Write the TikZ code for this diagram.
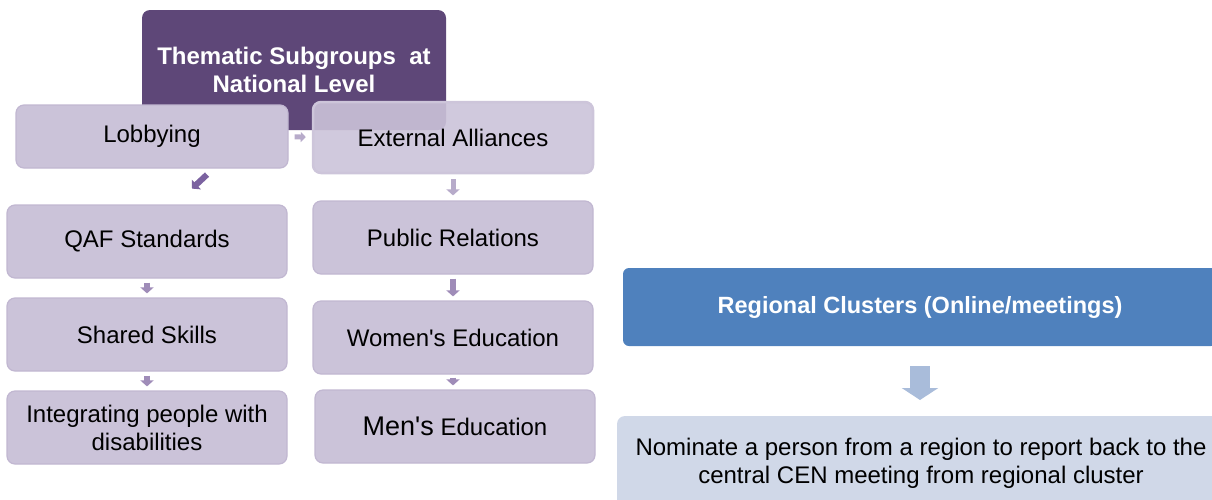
\documentclass[tikz,border=0pt]{standalone}
\usepackage{fontspec}
\setmainfont{Liberation Sans}
\usetikzlibrary{calc,arrows.meta}
\definecolor{hdr}{HTML}{5E4778}
\definecolor{lbox}{HTML}{CBC3D9}
\definecolor{lborder}{HTML}{C1B7D1}
\definecolor{arrL}{HTML}{B7ABCA}
\definecolor{arrM}{HTML}{9F8CB8}
\definecolor{arrD}{HTML}{7B62A0}
\definecolor{blu}{HTML}{4F81BD}
\definecolor{lblu}{HTML}{D0D8E8}
\definecolor{arrB}{HTML}{A9BCDA}
\tikzset{
  lightbox/.style={draw=lborder, line width=1.2pt, fill=lbox, rounded corners=8pt,
    minimum width=280pt, minimum height=73pt, align=center, inner sep=0pt,
    font=\fontsize{24}{28}\selectfont},
  blockarrow/.style={line width=6pt, -{Triangle[width=13pt,length=6pt]}},
}
\begin{document}
\begin{tikzpicture}[x=1pt,y=-1pt]
\useasboundingbox (0,0) rectangle (1212,499);
\clip (0,0) rectangle (1212,499);
% header
\node[fill=hdr, rounded corners=8pt, minimum width=304pt, minimum height=120pt,
  inner sep=0pt, align=center, text=white, font=\bfseries\fontsize{24}{28}\selectfont]
  (hdr) at (294,70) {Thematic Subgroups\ \ at\\National Level};
% left column
\node[lightbox, minimum width=272pt, minimum height=63pt] (lob) at (152,136.5) {Lobbying};
\node[lightbox] (qaf) at (147,241.5) {QAF Standards};
\node[lightbox] (sha) at (147,334.5) {Shared Skills};
\node[lightbox] (int) at (147,427.5) {Integrating people with\\disabilities};
% right column
\node[lightbox, fill opacity=0.9, text opacity=1, draw=lborder!80!white, line width=2.5pt, minimum height=71pt] (ext) at (453,137.5) {External Alliances};
\node[lightbox] (pub) at (453,237.5) {Public Relations};
\node[lightbox] (wom) at (453,337.5) {Women\textquotesingle s Education};
\node[lightbox] (men) at (455,426.5) {{\fontsize{27}{28}\selectfont Men\textquotesingle s} Education};
% arrows
\draw[line width=5pt, -{Triangle[width=10pt,length=5pt]}, arrL, shorten <=6pt, shorten >=6pt] (lob) -- (ext);
\draw[line width=6pt, -{Triangle[width=13pt,length=6pt]}, arrD] ($(lob.south)+(55,6)$) -- ($(lob.south)+(40,20)$);
\draw[blockarrow, arrL, line width=5pt, shorten <=5pt, shorten >=5pt] (ext) -- (pub);
\draw[blockarrow, arrM, shorten <=4pt, shorten >=4pt] (qaf) -- (sha);
\draw[blockarrow, arrM, shorten <=4pt, shorten >=4pt] (pub) -- (wom);
\draw[blockarrow, arrM, shorten <=4pt, shorten >=4pt] (sha) -- (int);
\draw[blockarrow, arrM, shorten <=3pt, shorten >=4pt] (wom.south) -- (wom.south |- men.north);
% right part
\node[fill=blu, rounded corners=6pt, minimum width=594pt, minimum height=78pt, inner sep=0pt,
  text=white, font=\bfseries\fontsize{23.5}{28}\selectfont] (reg) at (920,307) {Regional Clusters (Online/meetings)};
\node[fill=lblu, rounded corners=8pt, minimum width=608pt, minimum height=94pt, inner sep=0pt,
  align=center, font=\fontsize{24}{28}\selectfont] (nom) at (921,463) {Nominate a person from a region to report back to the\\central CEN meeting from regional cluster};
\coordinate (nomtop) at (920,416);
\draw[line width=20pt, -{Triangle[width=36pt,length=12pt]}, arrB, shorten <=20pt, shorten >=16pt] (reg.south -| nomtop) -- (nomtop);
\end{tikzpicture}
\end{document}
